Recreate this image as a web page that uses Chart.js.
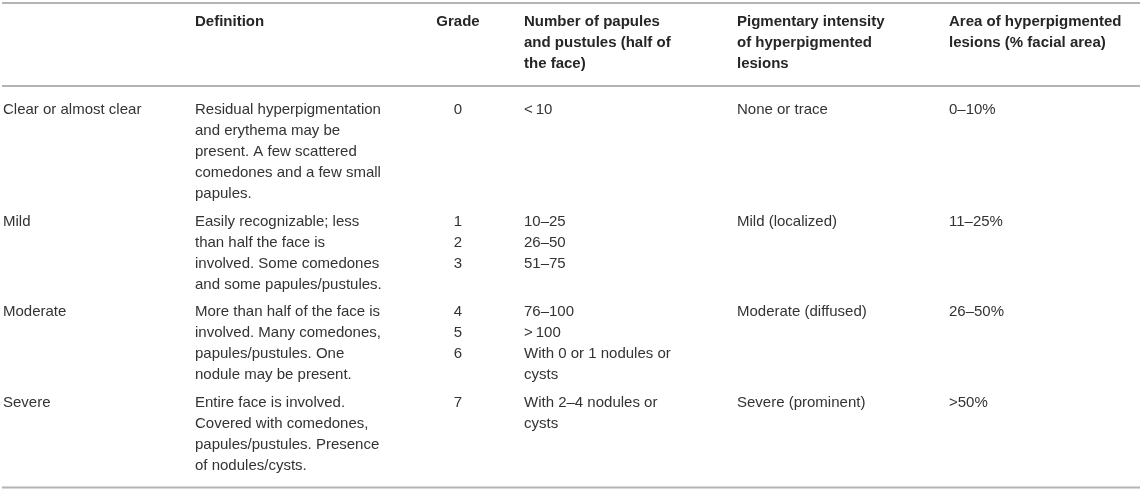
<!DOCTYPE html>
<html>
<head>
<meta charset="utf-8">
<script src="https://cdn.jsdelivr.net/npm/chart.js@4.4.1/dist/chart.umd.min.js"></script>
<style>
  html, body { margin: 0; padding: 0; background: #ffffff; }
  #wrap { position: relative; width: 1143px; height: 489px; }
</style>
</head>
<body>
<div id="wrap"><canvas id="c"></canvas></div>
<script>
// ---- table content ----
const columnHeaders = [
  [""],
  ["Definition"],
  ["Grade"],
  ["Number of papules", "and pustules (half of", "the face)"],
  ["Pigmentary intensity", "of hyperpigmented", "lesions"],
  ["Area of hyperpigmented", "lesions (% facial area)"]
];
const severity = ["Clear or almost clear", "Mild", "Moderate", "Severe"];
const definitions = [
  ["Residual hyperpigmentation", "and erythema may be", "present. A few scattered", "comedones and a few small", "papules."],
  ["Easily recognizable; less", "than half the face is", "involved. Some comedones", "and some papules/pustules."],
  ["More than half of the face is", "involved. Many comedones,", "papules/pustules. One", "nodule may be present."],
  ["Entire face is involved.", "Covered with comedones,", "papules/pustules. Presence", "of nodules/cysts."]
];
const grades = [["0"], ["1", "2", "3"], ["4", "5", "6"], ["7"]];
const papuleCounts = [
  ["<\u200910"],
  ["10\u201325", "26\u201350", "51\u201375"],
  ["76\u2013100", ">\u2009100", "With 0 or 1 nodules or", "cysts"],
  ["With 2\u20134 nodules or", "cysts"]
];
const pigmentIntensity = ["None or trace", "Mild (localized)", "Moderate (diffused)", "Severe (prominent)"];
const hyperpigmentedArea = ["0\u201310%", "11\u201325%", "26\u201350%", ">50%"];

// ---- layout (positions / styles) ----
const W = 1143, H = 489;
const colX = [3, 195, 458, 524, 737, 949];
const colAlign = ["left", "left", "center", "left", "left", "left"];
const LH = 21;
const ROW_GAP = 27.5;
const headerFirst = 22;
const topRule = 3;
const headerRule = 86;
const firstRowY = 110;
const bottomPad = 22;
const ruleLeft = 2, ruleRight = 1140;
const FONT = '"Liberation Sans", Arial, Helvetica, sans-serif';
const FS = 15;

const rows = severity.map((s, i) => [
  [s], definitions[i], grades[i], papuleCounts[i], [pigmentIntensity[i]], [hyperpigmentedArea[i]]
]);
const rowStarts = [];
let yCur = firstRowY;
rows.forEach(cells => {
  rowStarts.push(yCur);
  const n = Math.max(...cells.map(c => c.length));
  yCur += (n - 1) * LH + ROW_GAP;
});
const lastRow = rows[rows.length - 1];
const bottomRule = rowStarts[rowStarts.length - 1] +
  (Math.max(...lastRow.map(c => c.length)) - 1) * LH + bottomPad;

const ruleYs = [topRule, headerRule, bottomRule];
const ruleDatasets = ruleYs.map(y => ({
  data: [{x: ruleLeft, y: y}, {x: ruleRight, y: y}],
  borderColor: "#b4b4b4",
  borderWidth: 2,
  pointRadius: 0,
  fill: false,
  clip: false
}));

const tableText = {
  id: "tableText",
  afterDatasetsDraw(chart) {
    const ctx = chart.ctx;
    const xs = chart.scales.x, ys = chart.scales.y;
    ctx.save();
    ctx.textBaseline = "middle";
    // header
    ctx.font = "bold " + FS + "px " + FONT;
    ctx.fillStyle = "#262626";
    columnHeaders.forEach((lines, c) => {
      ctx.textAlign = colAlign[c];
      lines.forEach((t, k) => {
        ctx.fillText(t, xs.getPixelForValue(colX[c]), ys.getPixelForValue(headerFirst + k * LH));
      });
    });
    // body
    ctx.font = FS + "px " + FONT;
    ctx.fillStyle = "#333333";
    rows.forEach((cells, r) => {
      cells.forEach((lines, c) => {
        ctx.textAlign = colAlign[c];
        lines.forEach((t, k) => {
          ctx.fillText(t, xs.getPixelForValue(colX[c]), ys.getPixelForValue(rowStarts[r] + k * LH));
        });
      });
    });
    ctx.restore();
  }
};

new Chart(document.getElementById("c"), {
  type: "line",
  data: { datasets: ruleDatasets },
  options: {
    responsive: true,
    maintainAspectRatio: false,
    animation: false,
    events: [],
    layout: { padding: 0 },
    plugins: { legend: { display: false }, tooltip: { enabled: false }, title: { display: false } },
    scales: {
      x: { type: "linear", min: 0, max: W, display: false },
      y: { type: "linear", min: 0, max: H, reverse: true, display: false }
    }
  },
  plugins: [tableText]
});
</script>
</body>
</html>
